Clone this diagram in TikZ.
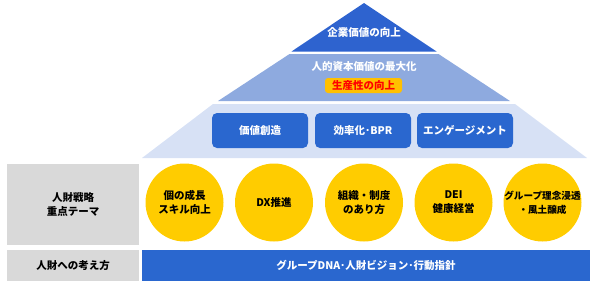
\documentclass[tikz,border=0pt]{standalone}
\usepackage{fontspec}
\setmainfont{Noto Sans CJK JP}
\definecolor{topblue}{HTML}{2E63CF}
\definecolor{midblue}{HTML}{8EAADF}
\definecolor{lightband}{HTML}{D7E1F5}
\definecolor{boxblue}{HTML}{2A67CF}
\definecolor{circyellow}{HTML}{FFCC00}
\definecolor{tagyellow}{HTML}{FFC000}
\definecolor{graybox}{HTML}{D9D9D9}
\tikzset{
  txt/.style={font=\fontsize{10.5}{14}\selectfont\bfseries, align=center, inner sep=0pt},
  wtxt/.style={txt, text=white},
  pillar/.style={fill=boxblue, rounded corners=5pt},
  theme/.style={circle, fill=circyellow, minimum size=78pt, inner sep=0pt},
  label/.style={fill=graybox, inner sep=0pt, txt, text=black},
}
\begin{document}
\begin{tikzpicture}[x=1pt,y=-1pt]
\useasboundingbox (0,0) rectangle (601,306);
% pyramid
\fill[topblue] (364,3) -- (436.5,51.5) -- (291.5,51.5) -- cycle;
\fill[midblue] (289.5,54) -- (438.5,54) -- (510,101) -- (218,101) -- cycle;
\fill[lightband] (213,104) -- (515,104) -- (587,158) -- (142,158) -- cycle;
\node[wtxt] (t1) at (364,32) {企業価値の向上};
\node[wtxt] (t2) at (364,67) {人的資本価値の最大化};
\node[txt, text=red, fill=tagyellow, rounded corners=3pt, minimum width=77pt, minimum height=15pt] (t3) at (363.5,85.5) {生産性の向上};
% pillars
\fill[pillar] (212,113) rectangle (308,148);
\fill[pillar] (315,113) rectangle (411,148);
\fill[pillar] (417,113) rectangle (513,148);
\node[wtxt] (p1) at (260,130.5) {価値創造};
\node[wtxt] (p2) at (363,130.5) {効率化･BPR};
\node[wtxt] (p3) at (465,130.5) {エンゲージメント};
% left labels
\node[label, minimum width=132pt, minimum height=81pt] (l1) at (73,204.5) {人財戦略\\重点テーマ};
\node[label, minimum width=132pt, minimum height=31pt] (l2) at (73,265.5) {人財への考え方};
% circles
\node[theme] (c1) at (184.5,202.5) {};
\node[theme] (c2) at (274,202.5) {};
\node[theme] (c3) at (364,202.5) {};
\node[theme] (c4) at (453.5,202.5) {};
\node[theme] (c5) at (542.5,202.5) {};
\node[txt] (c1t) at (c1) {個の成長\\スキル向上};
\node[txt] (c2t) at (c2) {DX推進};
\node[txt] (c3t) at (c3) {組織・制度\\のあり方};
\node[txt] (c4t) at (c4) {DEI\\健康経営};
\node[txt, font=\fontsize{9.6}{14}\selectfont\bfseries] (c5t) at (c5) {グループ理念浸透\\・風土醸成};
% bottom bar
\node[fill=boxblue, minimum width=448pt, minimum height=31pt, wtxt] (bar) at (366,265.5) {グループDNA･人財ビジョン･行動指針};
\end{tikzpicture}
\end{document}
